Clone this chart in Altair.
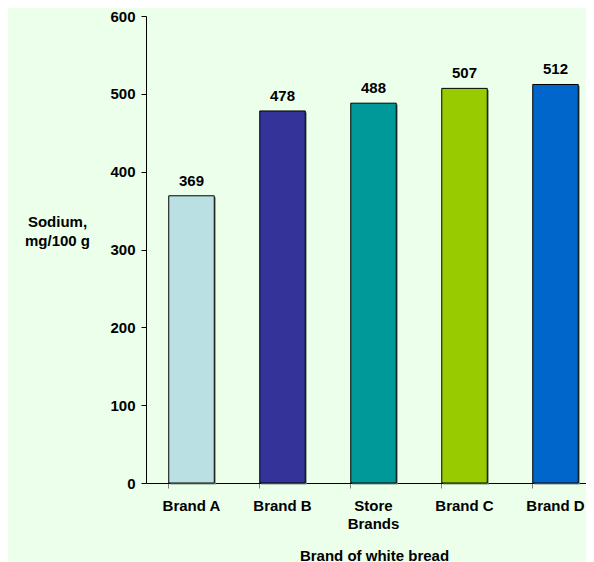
import altair as alt
import pandas as pd

brands = ["Brand A", "Brand B", "Store Brands", "Brand C", "Brand D"]
sodium = [369, 478, 488, 507, 512]
colors = ["#BBE0E3", "#333399", "#009999", "#99CC00", "#0066CC"]

df = pd.DataFrame({"brand": brands, "sodium": sodium})

FONT = "Liberation Sans"
BG = "#EBFFEB"

x = alt.X("brand:N", sort=brands, title="Brand of white bread",
          scale=alt.Scale(paddingInner=0.5, paddingOuter=0.25, range=[0, 455]),
          axis=alt.Axis(labelAngle=0, bandPosition=0, tickColor="#808080", tickSize=5,
                        domainColor="black", labelFontSize=15, labelFontWeight="bold",
                        labelFont=FONT, labelColor="black", labelPadding=10,
                        labelExpr="datum.label == 'Store Brands' ? ['Store', 'Brands'] : datum.label",
                        labelLineHeight=18,
                        titleFontSize=15, titleFontWeight="bold", titleFont=FONT,
                        titleColor="black", titlePadding=17, titleX=228))
y = alt.Y("sodium:Q", scale=alt.Scale(domain=[0, 600]),
          axis=alt.Axis(values=[0, 100, 200, 300, 400, 500, 600], grid=False,
                        tickColor="black", tickSize=5, domainColor="black",
                        labelFontSize=15, labelFontWeight="bold", labelFont=FONT,
                        labelColor="black", labelPadding=6,
                        title=["Sodium,", "mg/100 g"], titleAngle=0, titleAlign="center",
                        titleBaseline="middle", titleX=-89, titleY=205,
                        titleFontSize=15, titleFontWeight="bold", titleFont=FONT,
                        titleColor="black", titleLineHeight=19))

shadow = alt.Chart(df).mark_bar(color="#7F8F7F", xOffset=1.5, yOffset=1.5).encode(
    x=x, y=y)
bars = alt.Chart(df).mark_bar(stroke="black", strokeWidth=1).encode(
    x=x, y=y,
    color=alt.Color("brand:N", sort=brands,
                    scale=alt.Scale(domain=brands, range=colors), legend=None),
)
text = alt.Chart(df).mark_text(baseline="bottom", dy=-7, fontSize=15, fontWeight="bold",
                               font=FONT, color="black").encode(
    x=alt.X("brand:N", sort=brands), y="sodium:Q", text="sodium:Q")

chart = (shadow + bars + text).properties(
    width=440, height=467, background=BG,
    padding={"left": 138, "top": 8, "right": 0, "bottom": 84},
    autosize=alt.AutoSizeParams(type="none"),
).configure_view(stroke=None, fill=BG)

chart.save("out.html", embed_options={"renderer": "svg", "actions": False})
